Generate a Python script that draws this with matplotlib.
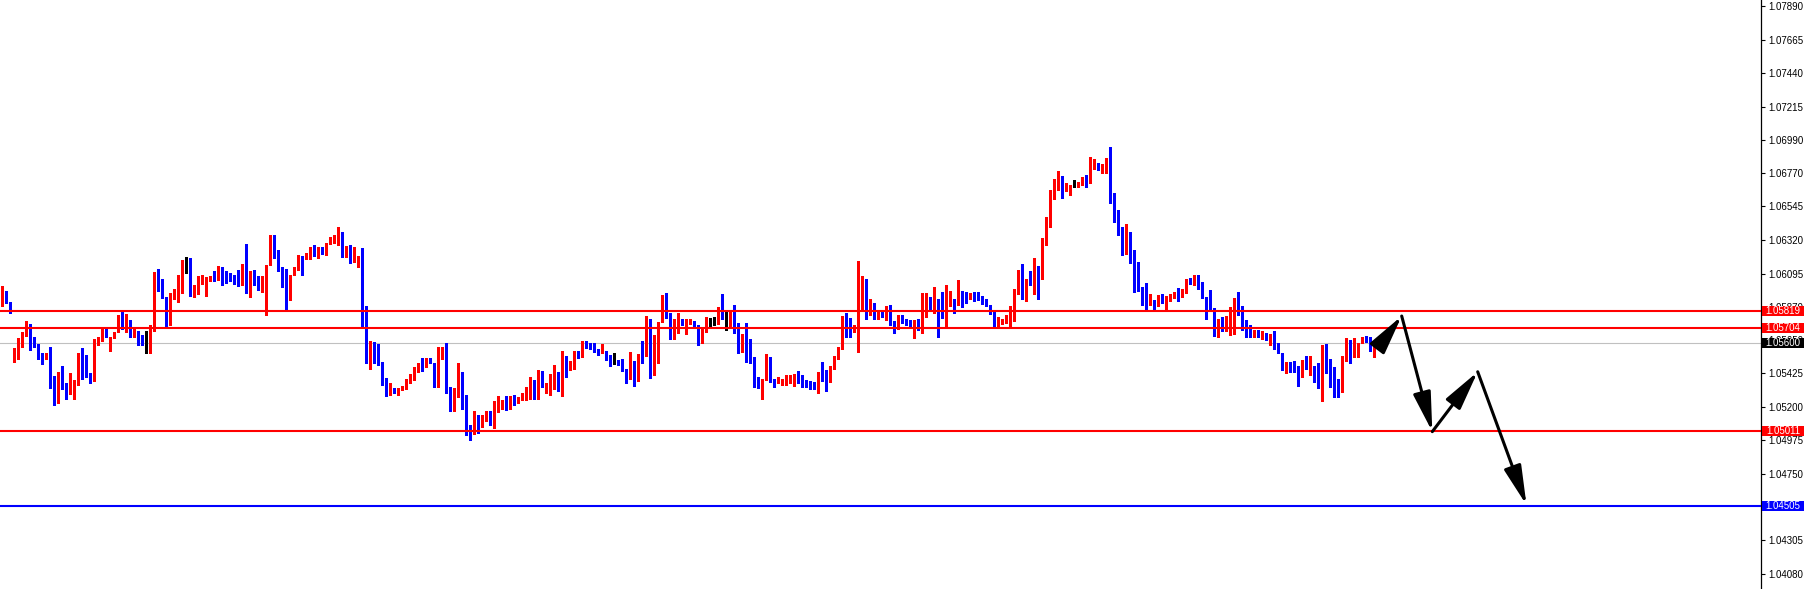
import matplotlib
matplotlib.use("Agg")
import matplotlib.pyplot as plt
import numpy as np
from matplotlib.patches import Rectangle
from matplotlib.transforms import blended_transform_factory, ScaledTranslation

plt.rcParams['font.family'] = ['Liberation Sans', 'DejaVu Sans']

# ---------------- data (EURUSD-like candles) ----------------
opens = [
    1.05869, 1.05918, 1.05880, 1.05483, 1.05533, 1.05577, 1.05656, 1.05730, 1.05618, 1.05596,
    1.05510, 1.05493, 1.05533, 1.05362, 1.05219, 1.05407, 1.05322, 1.05264, 1.05279, 1.05326,
    1.05519, 1.05442, 1.05384, 1.05344, 1.05622, 1.05636, 1.05685, 1.05555, 1.05645, 1.05676,
    1.05775, 1.05701, 1.05721, 1.05656, 1.05685, 1.05609, 1.05600, 1.05600, 1.05717, 1.06030,
    1.06003, 1.05909, 1.05738, 1.05923, 1.05931, 1.05958, 1.06159, 1.06159, 1.05931, 1.05971,
    1.06034, 1.05917, 1.06020, 1.06038, 1.06025, 1.06092, 1.06060, 1.06052, 1.06020, 1.06007,
    1.05993, 1.06092, 1.05989, 1.06070, 1.06020, 1.05998, 1.05998, 1.06123, 1.06271, 1.06221,
    1.06105, 1.06052, 1.05913, 1.06056, 1.06110, 1.06186, 1.06172, 1.06181, 1.06221, 1.06199,
    1.06235, 1.06213, 1.06275, 1.06298, 1.06302, 1.06338, 1.06181, 1.06253, 1.06159, 1.06165,
    1.06177, 1.05801, 1.05483, 1.05546, 1.05501, 1.05475, 1.05335, 1.05255, 1.05300, 1.05268,
    1.05295, 1.05309, 1.05349, 1.05385, 1.05416, 1.05456, 1.05443, 1.05488, 1.05470, 1.05354,
    1.05501, 1.05528, 1.05278, 1.05166, 1.05242, 1.05367, 1.05255, 1.05031, 1.05009, 1.05085,
    1.05036, 1.05103, 1.05134, 1.05058, 1.05206, 1.05206, 1.05213, 1.05166, 1.05215, 1.05201,
    1.05233, 1.05255, 1.05287, 1.05340, 1.05331, 1.05403, 1.05309, 1.05322, 1.05362, 1.05407,
    1.05287, 1.05488, 1.05434, 1.05470, 1.05542, 1.05528, 1.05613, 1.05577, 1.05563, 1.05550,
    1.05533, 1.05550, 1.05510, 1.05488, 1.05488, 1.05461, 1.05425, 1.05362, 1.05479, 1.05349,
    1.05528, 1.05515, 1.05743, 1.05456, 1.05483, 1.05743, 1.05913, 1.05779, 1.05658, 1.05685,
    1.05756, 1.05671, 1.05738, 1.05752, 1.05711, 1.05631, 1.05685, 1.05743, 1.05743, 1.05743,
    1.05819, 1.05775, 1.05775, 1.05819, 1.05681, 1.05542, 1.05600, 1.05555, 1.05493, 1.05358,
    1.05300, 1.05362, 1.05493, 1.05349, 1.05340, 1.05322, 1.05349, 1.05358, 1.05372, 1.05381,
    1.05354, 1.05340, 1.05327, 1.05327, 1.05318, 1.05394, 1.05362, 1.05349, 1.05434, 1.05506,
    1.05568, 1.05748, 1.05734, 1.05680, 1.05676, 1.05949, 1.05971, 1.05792, 1.05873, 1.05765,
    1.05810, 1.05783, 1.05850, 1.05721, 1.05708, 1.05770, 1.05743, 1.05734, 1.05716, 1.05721,
    1.05694, 1.05864, 1.05882, 1.05837, 1.05899, 1.05819, 1.05775, 1.05864, 1.05899, 1.05877,
    1.05944, 1.05909, 1.05904, 1.05936, 1.05913, 1.05899, 1.05877, 1.05855, 1.05801, 1.05716,
    1.05743, 1.05752, 1.05765, 1.05824, 1.05967, 1.06012, 1.05913, 1.06034, 1.05998, 1.06087,
    1.06034, 1.06275, 1.06436, 1.06624, 1.06660, 1.06723, 1.06629, 1.06620, 1.06656, 1.06656,
    1.06678, 1.06705, 1.06678, 1.06790, 1.06803, 1.06763, 1.06785, 1.06830, 1.06607, 1.06477,
    1.06338, 1.06235, 1.06334, 1.06141, 1.06092, 1.05980, 1.05922, 1.05855, 1.05877, 1.05864,
    1.05904, 1.05819, 1.05904, 1.05926, 1.05940, 1.05913, 1.05936, 1.06025, 1.05998, 1.06047,
    1.05962, 1.05909, 1.05850, 1.05828, 1.05681, 1.05730, 1.05711, 1.05734, 1.05797, 1.05832,
    1.05824, 1.05734, 1.05708, 1.05649, 1.05667, 1.05649, 1.05667, 1.05636, 1.05654, 1.05582,
    1.05537, 1.05443, 1.05466, 1.05439, 1.05416, 1.05376, 1.05475, 1.05439, 1.05448, 1.05362,
    1.05349, 1.05577, 1.05461, 1.05416, 1.05305, 1.05273, 1.05497, 1.05604, 1.05550, 1.05510,
    1.05604, 1.05636, 1.05618, 1.05564, 1.05582,
]
highs = [
    1.05985, 1.05951, 1.05880, 1.05568, 1.05634, 1.05676, 1.05748, 1.05730, 1.05645, 1.05596,
    1.05537, 1.05537, 1.05573, 1.05381, 1.05407, 1.05448, 1.05336, 1.05403, 1.05354, 1.05533,
    1.05568, 1.05524, 1.05403, 1.05631, 1.05640, 1.05698, 1.05703, 1.05645, 1.05676, 1.05788,
    1.05810, 1.05797, 1.05756, 1.05694, 1.05685, 1.05656, 1.05685, 1.05726, 1.06078, 1.06097,
    1.06030, 1.05909, 1.05940, 1.05967, 1.06056, 1.06159, 1.06177, 1.06172, 1.05989, 1.06052,
    1.06056, 1.06043, 1.06052, 1.06087, 1.06119, 1.06110, 1.06083, 1.06070, 1.06056, 1.06092,
    1.06132, 1.06266, 1.06087, 1.06092, 1.06052, 1.06052, 1.06123, 1.06329, 1.06329, 1.06226,
    1.06110, 1.06101, 1.06060, 1.06114, 1.06191, 1.06186, 1.06204, 1.06244, 1.06262, 1.06248,
    1.06248, 1.06275, 1.06315, 1.06325, 1.06383, 1.06347, 1.06253, 1.06262, 1.06248, 1.06186,
    1.06238, 1.05850, 1.05613, 1.05610, 1.05594, 1.05475, 1.05367, 1.05336, 1.05300, 1.05300,
    1.05313, 1.05362, 1.05394, 1.05439, 1.05466, 1.05501, 1.05501, 1.05501, 1.05470, 1.05577,
    1.05577, 1.05600, 1.05309, 1.05300, 1.05470, 1.05407, 1.05255, 1.05054, 1.05148, 1.05117,
    1.05117, 1.05148, 1.05148, 1.05215, 1.05246, 1.05219, 1.05246, 1.05246, 1.05255, 1.05242,
    1.05264, 1.05305, 1.05376, 1.05354, 1.05421, 1.05412, 1.05331, 1.05394, 1.05456, 1.05407,
    1.05546, 1.05515, 1.05483, 1.05550, 1.05550, 1.05618, 1.05618, 1.05604, 1.05600, 1.05564,
    1.05596, 1.05550, 1.05524, 1.05537, 1.05488, 1.05497, 1.05425, 1.05542, 1.05483, 1.05528,
    1.05613, 1.05783, 1.05765, 1.05654, 1.05743, 1.05922, 1.05940, 1.05806, 1.05761, 1.05801,
    1.05765, 1.05765, 1.05765, 1.05752, 1.05721, 1.05694, 1.05779, 1.05770, 1.05779, 1.05842,
    1.05931, 1.05815, 1.05824, 1.05859, 1.05738, 1.05663, 1.05734, 1.05627, 1.05506, 1.05376,
    1.05362, 1.05528, 1.05506, 1.05362, 1.05372, 1.05362, 1.05385, 1.05389, 1.05394, 1.05416,
    1.05389, 1.05354, 1.05345, 1.05340, 1.05407, 1.05475, 1.05421, 1.05448, 1.05515, 1.05573,
    1.05783, 1.05801, 1.05770, 1.05721, 1.06150, 1.06052, 1.06034, 1.05895, 1.05873, 1.05815,
    1.05815, 1.05850, 1.05859, 1.05752, 1.05788, 1.05788, 1.05765, 1.05756, 1.05756, 1.05761,
    1.05940, 1.05936, 1.05913, 1.05980, 1.05899, 1.05944, 1.05993, 1.05949, 1.05899, 1.06025,
    1.05953, 1.05944, 1.05940, 1.05944, 1.05944, 1.05918, 1.05895, 1.05855, 1.05819, 1.05775,
    1.05765, 1.05788, 1.05850, 1.05967, 1.06092, 1.06132, 1.06034, 1.06083, 1.06172, 1.06119,
    1.06307, 1.06446, 1.06629, 1.06705, 1.06754, 1.06723, 1.06674, 1.06660, 1.06696, 1.06683,
    1.06718, 1.06731, 1.06852, 1.06835, 1.06812, 1.06803, 1.06844, 1.06920, 1.06607, 1.06495,
    1.06378, 1.06401, 1.06347, 1.06226, 1.06146, 1.05980, 1.06003, 1.05931, 1.05891, 1.05926,
    1.05931, 1.05918, 1.05931, 1.05944, 1.05971, 1.05962, 1.06034, 1.06038, 1.06056, 1.06056,
    1.06012, 1.05913, 1.05958, 1.05837, 1.05765, 1.05775, 1.05783, 1.05846, 1.05904, 1.05944,
    1.05850, 1.05756, 1.05721, 1.05689, 1.05689, 1.05681, 1.05667, 1.05663, 1.05685, 1.05604,
    1.05537, 1.05475, 1.05475, 1.05479, 1.05448, 1.05488, 1.05515, 1.05515, 1.05448, 1.05466,
    1.05587, 1.05596, 1.05497, 1.05443, 1.05362, 1.05515, 1.05636, 1.05622, 1.05636, 1.05604,
    1.05645, 1.05649, 1.05640, 1.05613, 1.05609,
]
lows = [
    1.05853, 1.05873, 1.05806, 1.05476, 1.05493, 1.05577, 1.05649, 1.05555, 1.05574, 1.05497,
    1.05461, 1.05493, 1.05302, 1.05187, 1.05197, 1.05296, 1.05228, 1.05259, 1.05224, 1.05318,
    1.05362, 1.05376, 1.05335, 1.05344, 1.05587, 1.05618, 1.05640, 1.05546, 1.05636, 1.05676,
    1.05694, 1.05676, 1.05645, 1.05645, 1.05587, 1.05587, 1.05537, 1.05533, 1.05685, 1.05953,
    1.05904, 1.05711, 1.05725, 1.05899, 1.05878, 1.05940, 1.06074, 1.05918, 1.05913, 1.05931,
    1.05998, 1.05917, 1.06016, 1.06016, 1.06025, 1.05993, 1.06007, 1.06016, 1.05998, 1.05985,
    1.05989, 1.05936, 1.05913, 1.05989, 1.05958, 1.05944, 1.05792, 1.06123, 1.06172, 1.06083,
    1.05980, 1.05832, 1.05891, 1.06056, 1.06092, 1.06058, 1.06168, 1.06168, 1.06186, 1.06172,
    1.06199, 1.06191, 1.06266, 1.06271, 1.06258, 1.06181, 1.06181, 1.06141, 1.06146, 1.06114,
    1.05711, 1.05466, 1.05430, 1.05470, 1.05452, 1.05318, 1.05247, 1.05255, 1.05265, 1.05255,
    1.05287, 1.05295, 1.05336, 1.05354, 1.05407, 1.05416, 1.05439, 1.05466, 1.05309, 1.05309,
    1.05493, 1.05269, 1.05144, 1.05144, 1.05242, 1.05157, 1.04983, 1.04951, 1.04991, 1.05000,
    1.05036, 1.05081, 1.05054, 1.05031, 1.05139, 1.05157, 1.05152, 1.05161, 1.05188, 1.05197,
    1.05219, 1.05219, 1.05228, 1.05228, 1.05228, 1.05309, 1.05264, 1.05255, 1.05295, 1.05278,
    1.05247, 1.05376, 1.05421, 1.05430, 1.05501, 1.05506, 1.05568, 1.05559, 1.05542, 1.05524,
    1.05533, 1.05488, 1.05448, 1.05461, 1.05452, 1.05416, 1.05331, 1.05362, 1.05313, 1.05349,
    1.05466, 1.05515, 1.05367, 1.05385, 1.05470, 1.05743, 1.05770, 1.05631, 1.05627, 1.05671,
    1.05725, 1.05662, 1.05730, 1.05711, 1.05591, 1.05600, 1.05676, 1.05716, 1.05725, 1.05730,
    1.05765, 1.05689, 1.05716, 1.05671, 1.05537, 1.05542, 1.05475, 1.05470, 1.05309, 1.05300,
    1.05224, 1.05354, 1.05340, 1.05305, 1.05331, 1.05318, 1.05318, 1.05331, 1.05313, 1.05336,
    1.05309, 1.05305, 1.05295, 1.05295, 1.05268, 1.05345, 1.05282, 1.05340, 1.05425, 1.05497,
    1.05564, 1.05645, 1.05640, 1.05676, 1.05542, 1.05819, 1.05765, 1.05788, 1.05760, 1.05760,
    1.05775, 1.05756, 1.05721, 1.05671, 1.05698, 1.05734, 1.05721, 1.05708, 1.05636, 1.05689,
    1.05671, 1.05775, 1.05819, 1.05806, 1.05640, 1.05770, 1.05708, 1.05850, 1.05801, 1.05859,
    1.05846, 1.05868, 1.05899, 1.05886, 1.05891, 1.05864, 1.05850, 1.05797, 1.05716, 1.05711,
    1.05730, 1.05734, 1.05711, 1.05752, 1.05931, 1.05895, 1.05886, 1.05989, 1.05931, 1.05895,
    1.06029, 1.06262, 1.06383, 1.06570, 1.06629, 1.06575, 1.06624, 1.06597, 1.06651, 1.06647,
    1.06664, 1.06651, 1.06674, 1.06772, 1.06763, 1.06745, 1.06745, 1.06544, 1.06414, 1.06329,
    1.06195, 1.06199, 1.06137, 1.05944, 1.05949, 1.05855, 1.05824, 1.05855, 1.05824, 1.05850,
    1.05868, 1.05819, 1.05882, 1.05904, 1.05882, 1.05909, 1.05936, 1.05998, 1.05993, 1.05962,
    1.05904, 1.05765, 1.05815, 1.05649, 1.05645, 1.05681, 1.05685, 1.05654, 1.05662, 1.05792,
    1.05689, 1.05645, 1.05640, 1.05645, 1.05640, 1.05631, 1.05622, 1.05591, 1.05564, 1.05533,
    1.05421, 1.05399, 1.05407, 1.05407, 1.05313, 1.05372, 1.05425, 1.05389, 1.05340, 1.05300,
    1.05215, 1.05403, 1.05305, 1.05242, 1.05242, 1.05273, 1.05479, 1.05470, 1.05510, 1.05510,
    1.05604, 1.05609, 1.05550, 1.05510, 1.05573,
]
closes = [
    1.05918, 1.05880, 1.05819, 1.05533, 1.05577, 1.05656, 1.05730, 1.05618, 1.05596, 1.05510,
    1.05493, 1.05533, 1.05362, 1.05219, 1.05407, 1.05322, 1.05264, 1.05279, 1.05326, 1.05519,
    1.05442, 1.05384, 1.05344, 1.05622, 1.05636, 1.05685, 1.05649, 1.05645, 1.05676, 1.05775,
    1.05708, 1.05721, 1.05656, 1.05685, 1.05609, 1.05600, 1.05600, 1.05717, 1.06030, 1.06003,
    1.05909, 1.05738, 1.05923, 1.05931, 1.05958, 1.06159, 1.06159, 1.05931, 1.05971, 1.06034,
    1.06043, 1.06034, 1.06038, 1.06016, 1.06092, 1.06060, 1.06052, 1.06020, 1.06007, 1.05993,
    1.06092, 1.05989, 1.06070, 1.06020, 1.05998, 1.06025, 1.06123, 1.06271, 1.06221, 1.06105,
    1.06052, 1.05913, 1.06056, 1.06110, 1.06172, 1.06177, 1.06181, 1.06221, 1.06199, 1.06235,
    1.06213, 1.06275, 1.06298, 1.06302, 1.06338, 1.06181, 1.06253, 1.06159, 1.06165, 1.06177,
    1.05801, 1.05483, 1.05546, 1.05501, 1.05475, 1.05335, 1.05255, 1.05300, 1.05268, 1.05295,
    1.05309, 1.05349, 1.05385, 1.05416, 1.05456, 1.05443, 1.05488, 1.05470, 1.05354, 1.05568,
    1.05528, 1.05278, 1.05166, 1.05242, 1.05367, 1.05255, 1.05018, 1.05009, 1.05085, 1.05036,
    1.05103, 1.05134, 1.05058, 1.05206, 1.05215, 1.05213, 1.05166, 1.05215, 1.05201, 1.05233,
    1.05255, 1.05287, 1.05340, 1.05331, 1.05403, 1.05309, 1.05322, 1.05362, 1.05407, 1.05287,
    1.05488, 1.05434, 1.05470, 1.05542, 1.05528, 1.05613, 1.05577, 1.05563, 1.05550, 1.05533,
    1.05550, 1.05510, 1.05488, 1.05488, 1.05461, 1.05425, 1.05362, 1.05479, 1.05349, 1.05528,
    1.05515, 1.05743, 1.05456, 1.05483, 1.05743, 1.05913, 1.05779, 1.05658, 1.05685, 1.05756,
    1.05748, 1.05748, 1.05752, 1.05711, 1.05631, 1.05685, 1.05743, 1.05743, 1.05743, 1.05819,
    1.05770, 1.05775, 1.05819, 1.05681, 1.05542, 1.05600, 1.05555, 1.05493, 1.05358, 1.05300,
    1.05362, 1.05493, 1.05344, 1.05340, 1.05358, 1.05349, 1.05372, 1.05376, 1.05381, 1.05354,
    1.05340, 1.05327, 1.05318, 1.05318, 1.05394, 1.05362, 1.05349, 1.05434, 1.05506, 1.05568,
    1.05748, 1.05734, 1.05667, 1.05708, 1.05949, 1.05971, 1.05792, 1.05873, 1.05765, 1.05810,
    1.05783, 1.05850, 1.05721, 1.05708, 1.05770, 1.05743, 1.05734, 1.05716, 1.05721, 1.05694,
    1.05864, 1.05882, 1.05837, 1.05899, 1.05819, 1.05775, 1.05864, 1.05899, 1.05877, 1.05944,
    1.05909, 1.05904, 1.05936, 1.05913, 1.05899, 1.05877, 1.05855, 1.05801, 1.05716, 1.05743,
    1.05752, 1.05765, 1.05824, 1.05967, 1.06012, 1.05913, 1.06034, 1.05998, 1.06087, 1.06034,
    1.06275, 1.06436, 1.06624, 1.06660, 1.06723, 1.06629, 1.06664, 1.06656, 1.06656, 1.06678,
    1.06705, 1.06678, 1.06799, 1.06803, 1.06763, 1.06785, 1.06830, 1.06607, 1.06477, 1.06338,
    1.06235, 1.06334, 1.06141, 1.06092, 1.05980, 1.05922, 1.05855, 1.05877, 1.05864, 1.05904,
    1.05882, 1.05904, 1.05926, 1.05940, 1.05913, 1.05936, 1.06025, 1.05998, 1.06047, 1.05962,
    1.05909, 1.05850, 1.05828, 1.05681, 1.05730, 1.05711, 1.05734, 1.05797, 1.05832, 1.05824,
    1.05734, 1.05708, 1.05649, 1.05667, 1.05649, 1.05667, 1.05636, 1.05654, 1.05582, 1.05537,
    1.05443, 1.05466, 1.05439, 1.05416, 1.05376, 1.05475, 1.05439, 1.05448, 1.05362, 1.05349,
    1.05577, 1.05461, 1.05416, 1.05305, 1.05273, 1.05497, 1.05604, 1.05550, 1.05618, 1.05604,
    1.05636, 1.05618, 1.05564, 1.05582, 1.05600,
]

resistance_levels = [1.05819, 1.05704]
support_level = 1.05011
target_level = 1.04505
current_price = 1.05600

tick_values = [1.07890, 1.07665, 1.07440, 1.07215, 1.06990, 1.06770, 1.06545, 1.06320,
               1.06095, 1.05870, 1.05650, 1.05425, 1.05200, 1.04975, 1.04750, 1.04525,
               1.04305, 1.04080]

# forecast path drawn with arrows (bar index, price)
path_bars = [344.7, 349.85, 357.5, 368.85, 381.05]
path_prices = [1.05600, 1.05783, 1.05007, 1.05409, 1.04515]

# ---------------- figure ----------------
W, H = 1805, 589
PLOT_W = 1761
fig = plt.figure(figsize=(W / 100, H / 100), dpi=100)
fig.patch.set_facecolor('white')
ax = fig.add_axes([0, 0, PLOT_W / W, 1])
ax.set_facecolor('white')

y_top, y_bot = 1.07904, 1.03951
ax.set_ylim(y_bot, y_top)
ax.set_xlim(-0.575, (PLOT_W - 2.3) / 4.0)
px = (y_top - y_bot) / H  # price per pixel

o = np.array(opens)
h = np.array(highs)
l = np.array(lows)
c = np.array(closes)
x = np.arange(len(c))
col = np.where(c > o, '#FF0000', np.where(c < o, '#0000FF', '#000000'))

top = np.maximum.reduce([h, o, c])
bot = np.minimum.reduce([l, o, c])
ax.vlines(x, bot, top, colors=col, linewidth=0.8, antialiased=False, zorder=2)
body_bot = np.minimum(o, c)
body_h = np.maximum(np.abs(c - o), px)
ax.bar(x, body_h, bottom=body_bot, width=0.75, color=col, linewidth=0,
       antialiased=False, zorder=2)

# price lines
ax.axhline(current_price, color='#C0C0C0', linewidth=0.8, zorder=1)
for lv in resistance_levels + [support_level]:
    ax.axhline(lv, color='#FF0000', linewidth=1.5, zorder=3)
ax.axhline(target_level, color='#0000FF', linewidth=1.5, zorder=3)

# forecast arrows
for i in range(len(path_bars) - 1):
    ax.annotate('', xy=(path_bars[i + 1], path_prices[i + 1]),
                xytext=(path_bars[i], path_prices[i]),
                arrowprops=dict(arrowstyle='-|>,head_length=1.2,head_width=0.27',
                                mutation_scale=20, lw=2.2, color='black',
                                shrinkA=0, shrinkB=0),
                annotation_clip=False, zorder=4)

# axis styling
for side in ('left', 'top', 'bottom'):
    ax.spines[side].set_visible(False)
ax.spines['right'].set_linewidth(0.9)
ax.spines['right'].set_color('black')
ax.set_xticks([])
ax.yaxis.tick_right()
ax.set_yticks(tick_values)
ax.set_yticklabels([f"{v:.5f}" for v in tick_values])
ax.tick_params(axis='y', direction='out', length=3, width=0.8, pad=2,
               labelsize=7, colors='black')
shift = ScaledTranslation(0, -4 / 100, fig.dpi_scale_trans)
for tk in ax.yaxis.get_major_ticks():
    tk.label2.set_transform(tk.label2.get_transform() + shift)
    tk.tick2line.set_transform(tk.tick2line.get_transform() + shift)

# price tags on the axis
tr = blended_transform_factory(ax.transAxes, ax.transData)
tag_w = 42 / PLOT_W
tag_h = 10 * px
tags = [(resistance_levels[0], '#FF0000'), (resistance_levels[1], '#FF0000'),
        (current_price, '#000000'), (support_level, '#FF0000'),
        (target_level, '#0000FF')]
for val, fc in tags:
    ax.add_patch(Rectangle((1.0 + 1 / PLOT_W, val - tag_h / 2), tag_w, tag_h,
                           transform=tr, facecolor=fc, edgecolor='none',
                           clip_on=False, zorder=10))
    ax.text(1.0 + 1 / PLOT_W + tag_w / 2, val, f"{val:.5f}", transform=tr,
            ha='center', va='center', color='white', fontsize=7,
            clip_on=False, zorder=11)

fig.savefig('out.png', dpi=100, facecolor='white')
